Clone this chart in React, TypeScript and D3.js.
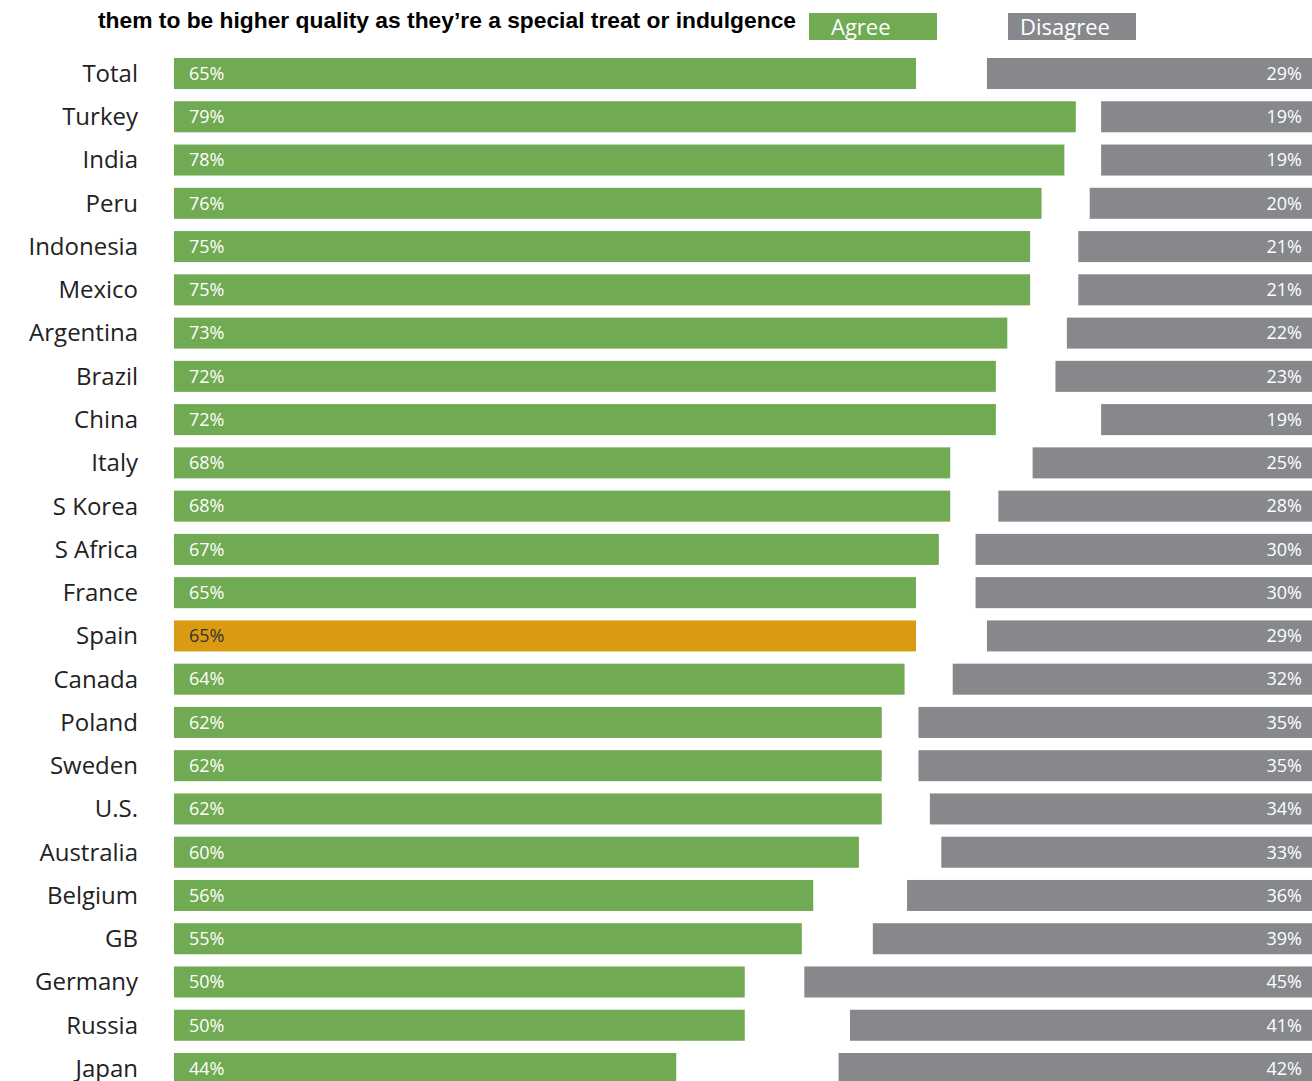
import React from "react";
import * as d3 from "d3";

const countries = ["Total","Turkey","India","Peru","Indonesia","Mexico","Argentina","Brazil","China","Italy","S Korea","S Africa","France","Spain","Canada","Poland","Sweden","U.S.","Australia","Belgium","GB","Germany","Russia","Japan"];
const agree = [65,79,78,76,75,75,73,72,72,68,68,67,65,65,64,62,62,62,60,56,55,50,50,44];
const disagree = [29,19,19,20,21,21,22,23,19,25,28,30,30,29,32,35,35,34,33,36,39,45,41,42];
const highlight = "Spain";
const titleText = "them to be higher quality as they\u2019re a special treat or indulgence";
const legendItems = ["Agree", "Disagree"];

const W = 1312, H = 1081;
const GREEN = "#70aa52", GRAY = "#86888c", ORANGE = "#da9b12";

export default function App() {
  const x0 = 174;
  const len = d3.scaleLinear().domain([0, 100]).range([0, 1141.5]);
  const rightEdge = 1318;
  const y = d3.scaleBand<string>().domain(countries).range([51.9, 51.9 + 24 * 43.26]).paddingInner(0.283).paddingOuter(0.1415);
  const bh = y.bandwidth();
  const font = "'Open Sans', 'DejaVu Sans', sans-serif";
  const legendX = [809, 1008];
  const legendColors = [GREEN, GRAY];
  return (
    <svg width={W} height={H} style={{ position: "absolute", left: 0, top: 0, background: "#fff" }}>
      <text x={98} y={28} fontFamily="'Liberation Sans', Arial, sans-serif" fontWeight="bold" fontSize={22} textLength={698} lengthAdjust="spacingAndGlyphs" fill="#000">{titleText}</text>
      {legendItems.map((l, i) => (
        <g key={l}>
          <rect x={legendX[i]} y={13} width={128} height={27} fill={legendColors[i]} />
          <text x={legendX[i] + (i === 0 ? 22 : 12)} y={35} fontFamily={font} fontSize={22} fill="#fff">{l}</text>
        </g>
      ))}
      {countries.map((c, i) => {
        const yy = y(c)!;
        const isH = c === highlight;
        const dw = len(disagree[i]);
        return (
          <g key={c}>
            <text x={138} y={yy + bh / 2} dy="0.35em" textAnchor="end" fontFamily={font} fontSize={24} fill="#222">{c}</text>
            <rect x={x0} y={yy} width={len(agree[i])} height={bh} fill={isH ? ORANGE : GREEN} />
            <text x={189} y={yy + bh / 2} dy="0.35em" fontFamily={font} fontSize={18} fill={isH ? "#333" : "#fff"}>{agree[i]}%</text>
            <rect x={rightEdge - dw} y={yy} width={dw} height={bh} fill={GRAY} />
            <text x={1302} y={yy + bh / 2} dy="0.35em" textAnchor="end" fontFamily={font} fontSize={18} fill="#fff">{disagree[i]}%</text>
          </g>
        );
      })}
    </svg>
  );
}
